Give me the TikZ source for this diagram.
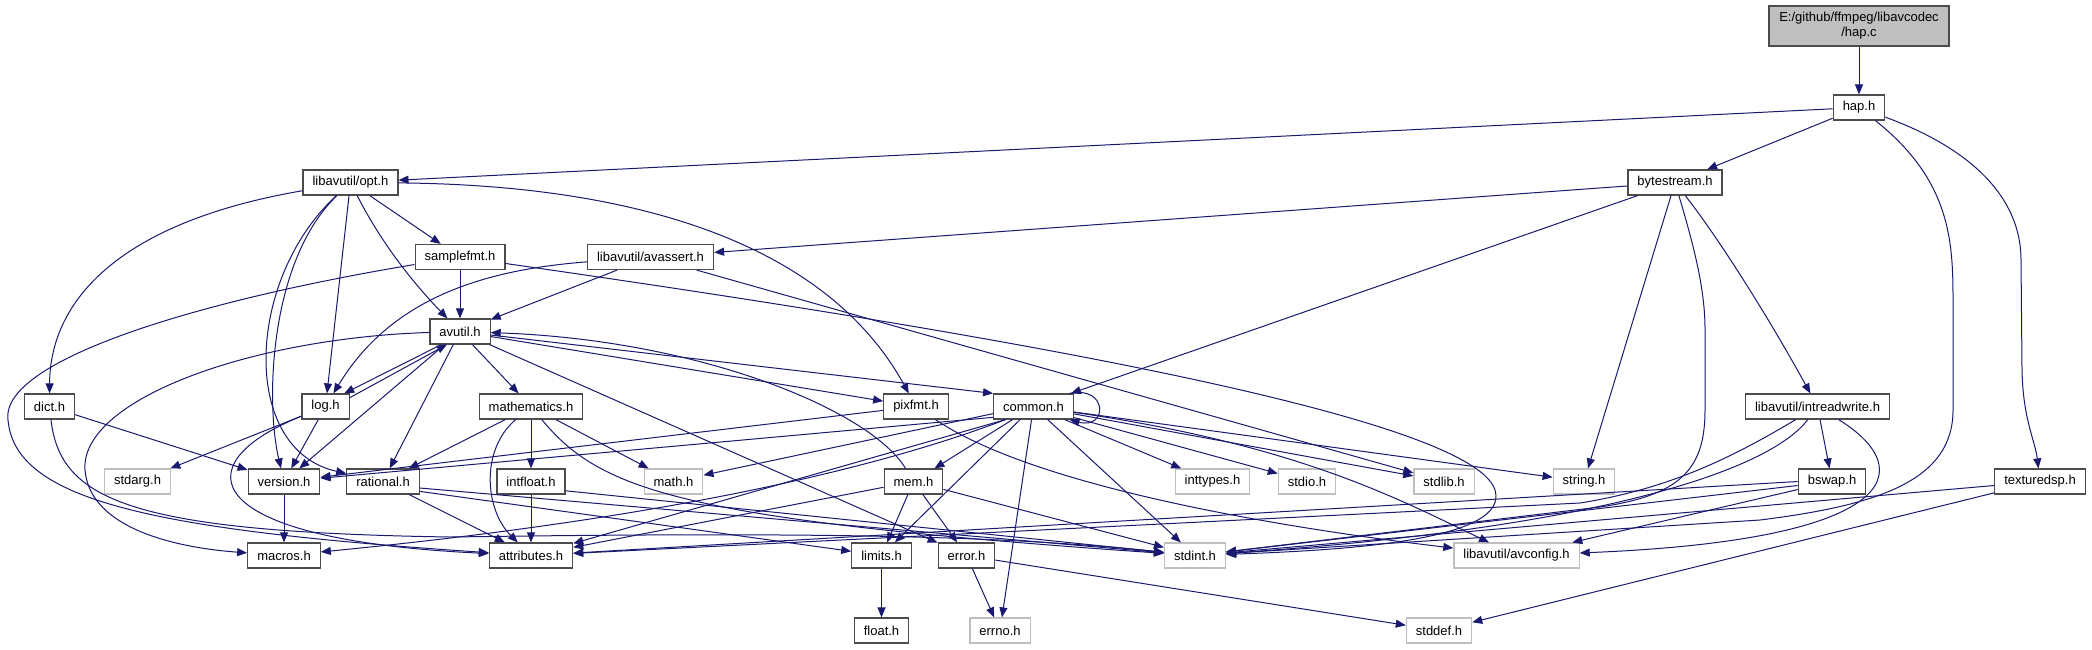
\documentclass[tikz,border=0pt]{standalone}
\usepackage{fontspec}
\setmainfont{Liberation Sans}
\usetikzlibrary{arrows.meta}
\definecolor{edgeblue}{RGB}{25,25,112}

\begin{document}
\begin{tikzpicture}[
    x=1pt, y=-1pt,
    hdr/.style={draw=black!70, fill=white, line width=1.2pt, minimum height=25pt, inner xsep=9.5pt, inner ysep=0pt, font=\fontsize{13}{15}\selectfont},
    sys/.style={hdr, draw=black!25},
    srcfile/.style={hdr, fill=black!25, align=center, minimum height=40pt, minimum width=180pt},
    arr/.style={-{Triangle[length=10pt, width=8pt]}, draw=edgeblue, line width=1pt}
]
\fill[white] (0,0) rectangle (2092,649);
\useasboundingbox (0,0) rectangle (2092,649);

\node[srcfile] (hapc) at (1859,26) {E:/github/ffmpeg/libavcodec\\/hap.c};
\node[hdr] (haph) at (1859,107.5) {hap.h};
\node[hdr] (opt) at (350.5,182.5) {libavutil/opt.h};
\node[hdr] (bytestream) at (1675,182.5) {bytestream.h};
\node[hdr] (samplefmt) at (460,257) {samplefmt.h};
\node[hdr] (avassert) at (650.5,257) {libavutil/avassert.h};
\node[hdr] (avutil) at (460,331.5) {avutil.h};
\node[hdr] (dict) at (49.5,406.5) {dict.h};
\node[hdr] (log) at (325.5,406.5) {log.h};
\node[hdr] (mathematics) at (531,406.5) {mathematics.h};
\node[hdr] (pixfmt) at (916,406.5) {pixfmt.h};
\node[hdr] (common) at (1033.5,406.5) {common.h};
\node[hdr] (intreadwrite) at (1817.5,406.5) {libavutil/intreadwrite.h};
\node[sys] (stdarg) at (137.5,481.5) {stdarg.h};
\node[hdr] (version) at (284,481.5) {version.h};
\node[hdr] (rational) at (383,481.5) {rational.h};
\node[hdr] (intfloat) at (531,481.5) {intfloat.h};
\node[sys] (math) at (673.5,481.5) {math.h};
\node[hdr] (mem) at (913.5,481.5) {mem.h};
\node[sys] (inttypes) at (1212.5,481.5) {inttypes.h};
\node[sys] (stdio) at (1307,481.5) {stdio.h};
\node[sys] (stdlib) at (1444,481.5) {stdlib.h};
\node[sys] (string) at (1584,481.5) {string.h};
\node[hdr] (bswap) at (1832,481.5) {bswap.h};
\node[hdr] (texturedsp) at (2040,481.5) {texturedsp.h};
\node[hdr] (macros) at (284,555.5) {macros.h};
\node[hdr] (attributes) at (531,555.5) {attributes.h};
\node[hdr] (limits) at (881.5,555.5) {limits.h};
\node[hdr] (error) at (966.5,555.5) {error.h};
\node[sys] (stdint) at (1195,555.5) {stdint.h};
\node[sys] (avconfig) at (1516.5,555.5) {libavutil/avconfig.h};
\node[hdr] (float) at (881.5,630.5) {float.h};
\node[sys] (errno) at (1000,630.5) {errno.h};
\node[sys] (stddef) at (1439,630.5) {stddef.h};

\draw[arr] (hapc) -- (haph);
\draw[arr] (haph) -- (opt);
\draw[arr] (haph) -- (bytestream);
\draw[arr] (haph) .. controls (1950,180) and (1953,240) .. (1953,300) -- (1953,410) .. controls (1953,480) and (1880,505) .. (1760,520) -- (stdint);
\draw[arr] (haph) .. controls (1975,150) and (2021,200) .. (2021,260) -- (2022,370) .. controls (2023,420) and (2035,440) .. (texturedsp);

\draw[arr] (opt) .. controls (120,222) and (50,300) .. (dict);
\draw[arr] (opt) .. controls (270,260) and (265,400) .. (version);
\draw[arr] (opt) .. controls (245,280) and (240,450) .. (rational);
\draw[arr] (opt) -- (log);
\draw[arr] (opt) .. controls (385,250) and (420,290) .. (avutil);
\draw[arr] (opt) -- (samplefmt);
\draw[arr] (opt) .. controls (650,185) and (830,250) .. (pixfmt);

\draw[arr] (samplefmt) -- (avutil);
\draw[arr] (samplefmt) .. controls (200,300) and (0,360) .. (8,420) .. controls (15,500) and (150,530) .. (attributes);
\draw[arr] (samplefmt) .. controls (900,320) and (1470,410) .. (1495,490) .. controls (1510,540) and (1350,550) .. (stdint);

\draw[arr] (avassert) -- (avutil);
\draw[arr] (avassert) .. controls (480,270) and (390,300) .. (log);
\draw[arr] (avassert) -- (stdlib);

\draw[arr] (bytestream) -- (avassert);
\draw[arr] (bytestream) -- (common);
\draw[arr] (bytestream) -- (string);
\draw[arr] (bytestream) .. controls (1695,250) and (1705,290) .. (1705,330) -- (1705,410) .. controls (1705,470) and (1680,495) .. (1600,507) -- (stdint);
\draw[arr] (bytestream) .. controls (1720,240) and (1770,320) .. (intreadwrite);

\draw[arr] (avutil) -- (mathematics);
\draw[arr] (avutil) -- (version);
\draw[arr] (avutil) -- (rational);
\draw[arr] (avutil) -- (error);
\draw[arr] (avutil) -- (pixfmt);
\draw[arr] (avutil) -- (common.north west);
\draw[arr] (avutil.215) -- (log.35);
\draw[arr] (avutil) .. controls (250,338) and (80,400) .. (85,470) .. controls (90,530) and (180,548) .. (macros);

\draw[arr] (log.20) -- (avutil.225);
\draw[arr] (log) -- (version);
\draw[arr] (log) -- (stdarg);
\draw[arr] (log) .. controls (180,465) and (200,540) .. (attributes);

\draw[arr] (dict) -- (version);
\draw[arr] (dict) .. controls (60,500) and (130,532) .. (450,537) .. controls (800,532) and (1000,535) .. (stdint);

\draw[arr] (version) -- (macros);

\draw[arr] (mathematics) -- (rational);
\draw[arr] (mathematics) -- (intfloat);
\draw[arr] (mathematics) -- (math);
\draw[arr] (mathematics) .. controls (480,450) and (485,510) .. (attributes);
\draw[arr] (mathematics) .. controls (600,490) and (680,520) .. (stdint);

\draw[arr] (rational) -- (attributes);
\draw[arr] (rational.-10) -- (stdint);
\draw[arr] (rational.-15) -- (limits);

\draw[arr] (intfloat) -- (attributes);
\draw[arr] (intfloat.-15) -- (stdint);

\draw[arr] (pixfmt) -- (version);
\draw[arr] (pixfmt) .. controls (1040,490) and (1300,530) .. (avconfig);

\draw[arr] (common.20) .. controls (1108,385) and (1108,430) .. (common.-20);
\draw[arr] (common.195) -- (version);
\draw[arr] (common.205) .. controls (900,460) and (700,515) .. (macros);
\draw[arr] (common.205) -- (attributes);
\draw[arr] (common.190) -- (math);
\draw[arr] (common) -- (mem);
\draw[arr] (common) -- (limits);
\draw[arr] (common) -- (errno);
\draw[arr] (common) -- (stdint);
\draw[arr] (common) -- (inttypes);
\draw[arr] (common) -- (stdio);
\draw[arr] (common) -- (stdlib);
\draw[arr] (common) -- (string);
\draw[arr] (common) .. controls (1300,445) and (1400,500) .. (avconfig);

\draw[arr] (mem) -- (limits);
\draw[arr] (mem) -- (error);
\draw[arr] (mem) -- (stdint);
\draw[arr] (mem) -- (attributes);
\draw[arr] (mem) .. controls (870,410) and (700,340) .. (avutil);

\draw[arr] (error) -- (errno);
\draw[arr] (error) -- (stddef);
\draw[arr] (limits) -- (float);

\draw[arr] (intreadwrite) -- (bswap);
\draw[arr] (intreadwrite) .. controls (1720,465) and (1660,490) .. (1580,503) -- (attributes);
\draw[arr] (intreadwrite) .. controls (1770,470) and (1600,528) .. (stdint);
\draw[arr] (intreadwrite) .. controls (1920,470) and (1900,540) .. (avconfig);

\draw[arr] (bswap.west) -- (attributes);
\draw[arr] (bswap) -- (stdint);
\draw[arr] (bswap) -- (avconfig);

\draw[arr] (texturedsp) -- (stdint);
\draw[arr] (texturedsp) -- (stddef);
\end{tikzpicture}
\end{document}
